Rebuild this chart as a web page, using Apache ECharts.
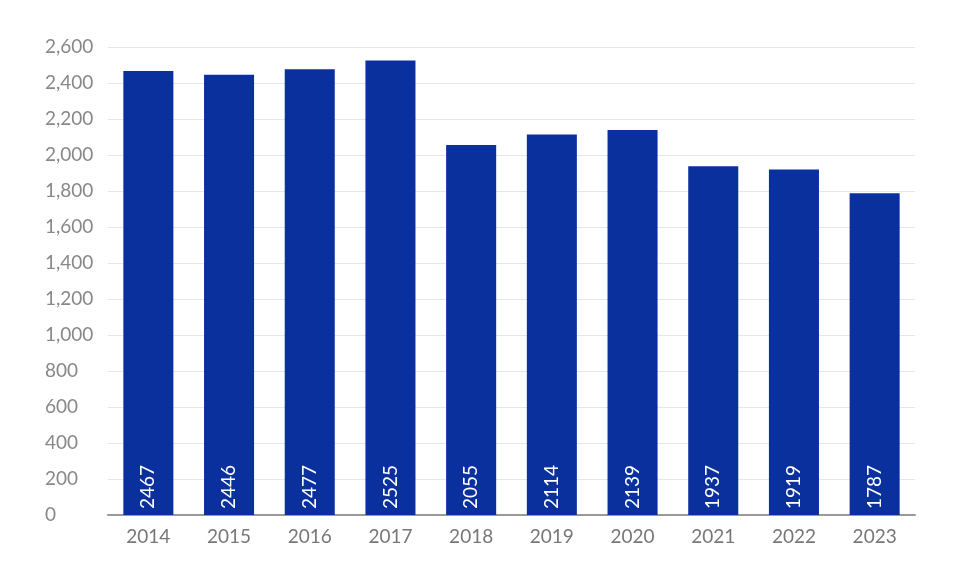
<!DOCTYPE html>
<html><head><meta charset="utf-8">
<script src="https://cdn.jsdelivr.net/npm/echarts@6/dist/echarts.min.js"></script>
<style>html,body{margin:0;padding:0;background:#fff}#c{width:980px;height:571px}</style>
</head><body><div id="c"></div>
<script>
const categories = ['2014','2015','2016','2017','2018','2019','2020','2021','2022','2023'];
const values = [2467,2446,2477,2525,2055,2114,2139,1937,1919,1787];
const chart = echarts.init(document.getElementById('c'));
chart.setOption({
  animation:false,
  grid:{left:108,right:65,top:47,bottom:56},
  xAxis:{type:'category',data:categories,
    axisLine:{lineStyle:{color:'#999',width:2}},axisTick:{show:false},
    axisLabel:{color:'#777',fontSize:19,fontFamily:'Lato, sans-serif',margin:12}},
  yAxis:{type:'value',min:0,max:2600,interval:200,
    axisLabel:{color:'#888',fontSize:19,fontFamily:'Lato, sans-serif',align:'left',margin:63},
    splitLine:{lineStyle:{color:'#e6e6e6'}}},
  series:[{type:'bar',data:values,barCategoryGap:'38%',
    itemStyle:{color:'#0a309e'},
    label:{show:true,position:'insideBottom',rotate:90,align:'left',verticalAlign:'middle',
      color:'#fff',fontSize:19,fontFamily:'Lato, sans-serif',distance:6}}]
});
</script></body></html>
